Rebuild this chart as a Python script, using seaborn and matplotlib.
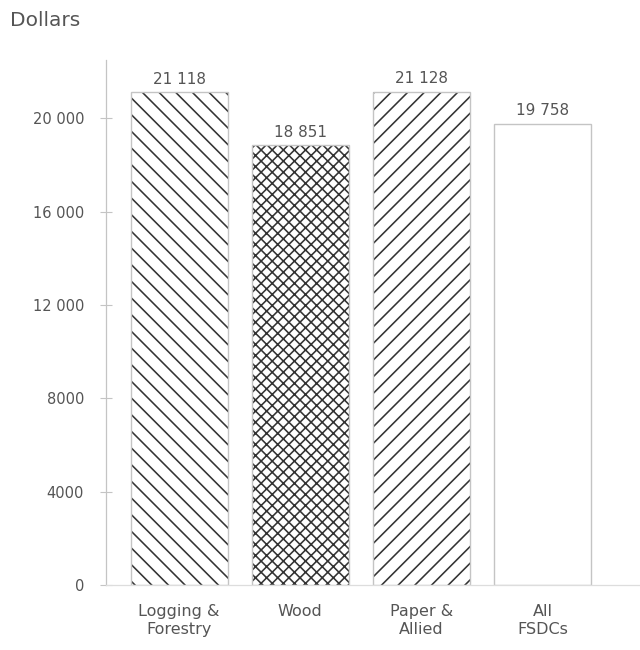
"""Average annual wage by forest-sector industry, hatched bar chart."""

import pandas as pd
import seaborn as sns
import matplotlib.pyplot as plt

# Data
CATEGORIES = ["Logging &\nForestry", "Wood", "Paper &\nAllied", "All\nFSDCs"]
WAGES = [21118, 18851, 21128, 19758]
Y_TICKS = [0, 4000, 8000, 12000, 16000, 20000]

HATCHES = ["\\\\", "xxx", "//", ""]
TEXT_COLOR = "#555555"
EDGE_COLOR = "#c4c4c4"
HATCH_COLOR = "#333333"


def fmt(v):
    """Space as thousands separator, only for 5+ digit numbers."""
    return f"{v:,}".replace(",", " ") if v >= 10000 else str(v)


def plot_chart():
    sns.set_theme(style="white")
    plt.rcParams.update({
        "font.family": ["DejaVu Sans"],
        "hatch.linewidth": 1.15,
    })

    df = pd.DataFrame({"Category": CATEGORIES, "Wage": WAGES})

    fig = plt.figure(figsize=(6.4, 6.5), dpi=100)
    ax = fig.add_axes([0.166, 0.10, 0.834, 0.8077])

    # hatched fill (hatch takes the edge colour, so no visible outline here)
    sns.barplot(data=df, x="Category", y="Wage", color="white",
                edgecolor=HATCH_COLOR, linewidth=0, width=0.8,
                saturation=1, ax=ax)
    for patch, hatch in zip(ax.patches, HATCHES):
        patch.set_hatch(hatch)
        patch.set_facecolor("white")
        patch.set_linewidth(0)

    # light outlines on top
    sns.barplot(data=df, x="Category", y="Wage", fill=False,
                edgecolor=EDGE_COLOR, linewidth=1.0, width=0.8, ax=ax)

    ax.bar_label(ax.containers[0], labels=[fmt(v) for v in WAGES],
                 padding=4, fontsize=11, color=TEXT_COLOR)

    ax.set_xlim(-0.6, 3.8)
    ax.set_ylim(0, 22500)
    ax.set_yticks(Y_TICKS)
    ax.set_yticklabels([fmt(v) for v in Y_TICKS])
    ax.tick_params(axis="y", direction="inout", length=8, width=0.8,
                   color=EDGE_COLOR, labelsize=10.5, labelcolor=TEXT_COLOR,
                   pad=12, left=True)
    ax.tick_params(axis="x", length=0, labelsize=11.5,
                   labelcolor=TEXT_COLOR, pad=14)
    ax.set_xlabel("")
    ax.set_ylabel("")

    for side in ["top", "right"]:
        ax.spines[side].set_visible(False)
    ax.spines["left"].set_color(EDGE_COLOR)
    ax.spines["left"].set_linewidth(0.9)
    ax.spines["bottom"].set_color("#dddddd")
    ax.spines["bottom"].set_linewidth(0.9)

    fig.text(0.015, 0.968, "Dollars", fontsize=14.5, color=TEXT_COLOR,
             va="center", ha="left")

    fig.savefig("out.png", dpi=100)
    plt.close(fig)


if __name__ == "__main__":
    plot_chart()
